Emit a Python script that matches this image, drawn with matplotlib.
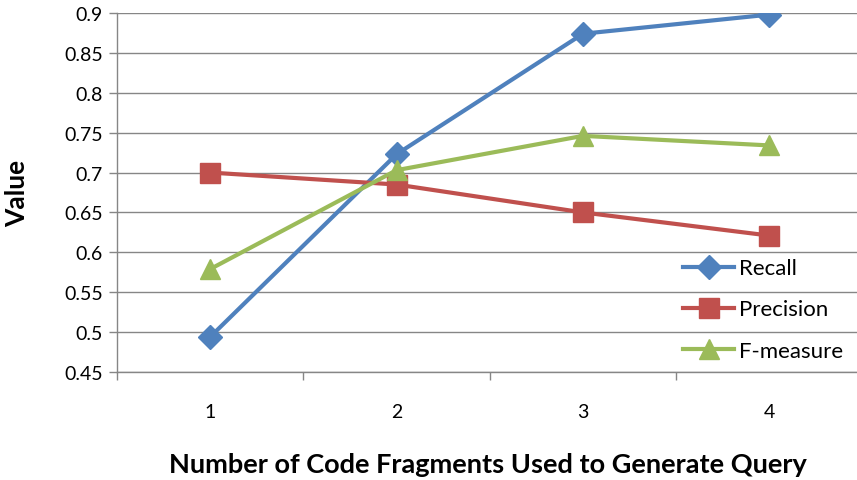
import matplotlib
matplotlib.use("Agg")
import matplotlib.pyplot as plt
from matplotlib.ticker import FixedLocator

plt.rcParams['font.family'] = ['Lato', 'DejaVu Sans']

categories = [1, 2, 3, 4]
recall = [0.494, 0.723, 0.874, 0.898]
precision = [0.700, 0.685, 0.650, 0.621]
fmeasure = [0.579, 0.703, 0.746, 0.734]
yticks = [0.45, 0.5, 0.55, 0.6, 0.65, 0.7, 0.75, 0.8, 0.85, 0.9]

W, H = 857, 481
fig = plt.figure(figsize=(W/100, H/100), dpi=100)
ax = fig.add_axes([117/W, 1 - 373/H, (W-117)/W, (373-14)/H])

ax.plot(categories, recall, color='#4F81BD', lw=3, marker='D', ms=12, label='Recall', zorder=3)
ax.plot(categories, precision, color='#C0504D', lw=3, marker='s', ms=14, label='Precision', zorder=3)
ax.plot(categories, fmeasure, color='#9BBB59', lw=3, marker='^', ms=14, label='F-measure', zorder=3)

ax.set_xlim(0.5, 4.47)
ax.set_ylim(0.45, 0.9)
ax.set_yticks(yticks)
ax.set_yticklabels([f"{v:g}" for v in yticks])
ax.set_xticks(categories)
ax.set_xticklabels([str(c) for c in categories])
ax.xaxis.set_minor_locator(FixedLocator([0.5, 1.5, 2.5, 3.5]))
ax.tick_params(axis='x', which='major', length=0, pad=22, labelsize=14)
ax.tick_params(axis='x', which='minor', length=6, color='#868686', width=1)
ax.tick_params(axis='y', which='major', length=6, color='#868686', width=1, labelsize=14, pad=4)

ax.grid(axis='y', color='#868686', lw=1)
ax.set_axisbelow(True)
for s in ['top', 'right']:
    ax.spines[s].set_visible(False)
for s in ['left', 'bottom']:
    ax.spines[s].set_color('#868686')
    ax.spines[s].set_linewidth(1)

ax.set_ylabel('Value', fontsize=19, fontweight='bold', va='center')
ax.yaxis.set_label_coords((17-117)/740, 0.5)
ax.set_xlabel('Number of Code Fragments Used to Generate Query', fontsize=19.5, fontweight='bold', va='center')
ax.xaxis.set_label_coords((488-117)/740, (373-465)/359)

leg = fig.legend(loc='center left', bbox_to_anchor=(683/W, 1 - 310.5/H), frameon=False, fontsize=16,
                 handlelength=2.3, labelspacing=0.95, handletextpad=0.2, borderpad=0, borderaxespad=0)

fig.savefig('out.png', dpi=100)
